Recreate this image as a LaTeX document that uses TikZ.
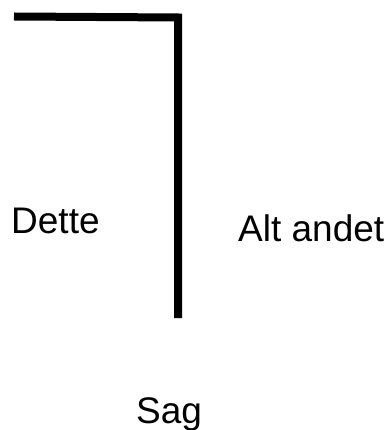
\documentclass[tikz,border=0pt]{standalone}
\usepackage{fontspec}
\setmainfont{Liberation Sans}

\begin{document}
\begin{tikzpicture}[x=1pt, y=-1pt,
    label text/.style={anchor=base west, inner sep=0pt, font=\fontsize{37}{44}\selectfont},
    bar/.style={line width=8pt, line join=miter, line cap=butt}]
  \useasboundingbox (0,0) rectangle (390,430);

  % the bent bar
  \coordinate (start) at (14,16.5);
  \coordinate (corner) at (178,17.5);
  \coordinate (stop) at (178,318);
  \draw[bar] (start) -- (corner) -- (stop);

  % labels
  \node[label text] (dette) at (11,233) {Dette};
  \node[label text] (altandet) at (238,241.5) {Alt andet};
  \node[label text] (sag) at (136,423) {Sag};
\end{tikzpicture}
\end{document}
